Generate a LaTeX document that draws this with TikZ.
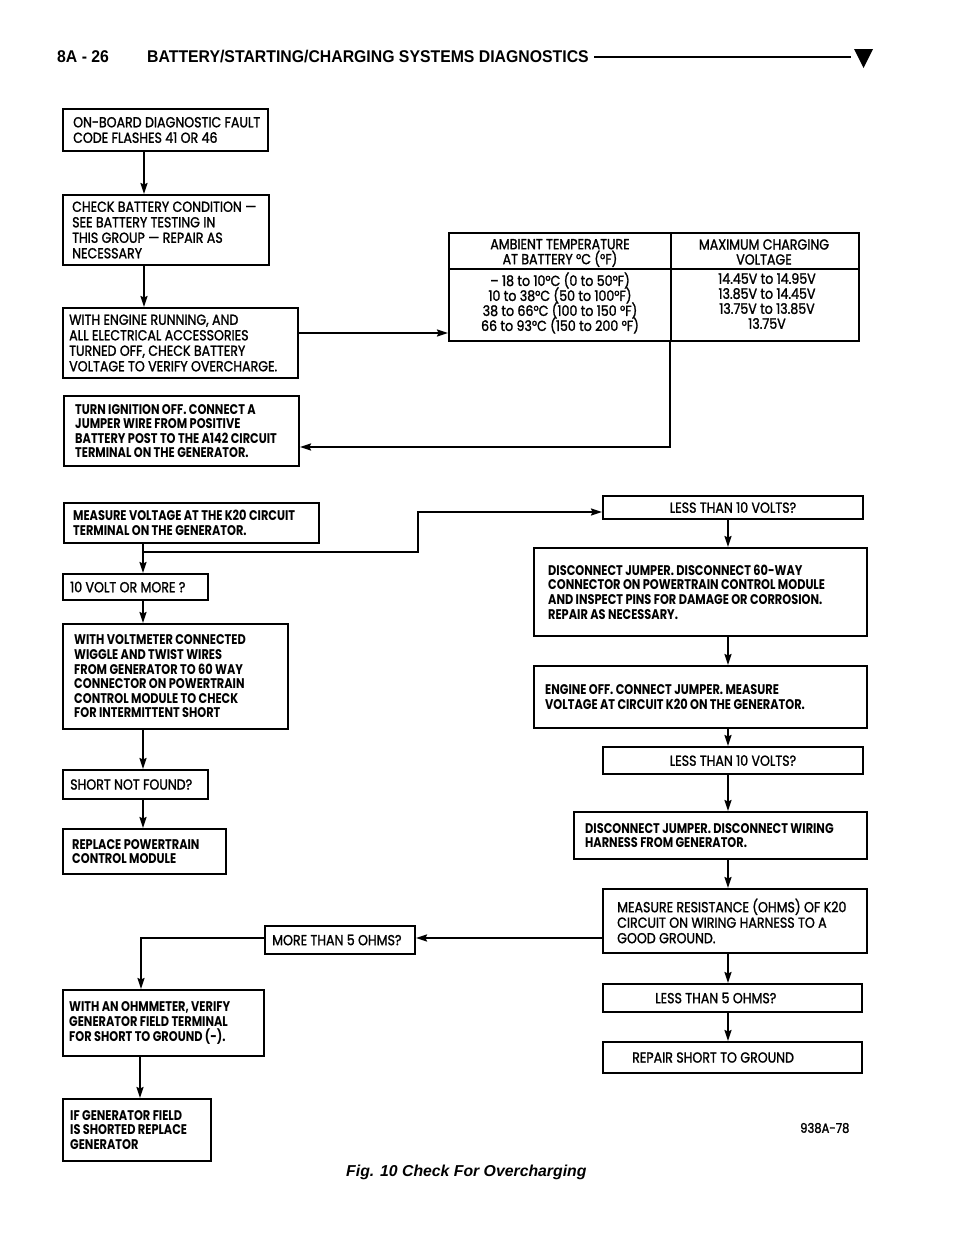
\documentclass[tikz,border=0pt]{standalone}
\usepackage{fontspec}
\usetikzlibrary{arrows.meta}
\newfontfamily\regf[FakeStretch=0.87, FakeBold=1.4]{Poppins}
\newfontfamily\bldf[FakeStretch=0.81]{Poppins}
\newfontfamily\hdf[FakeStretch=0.93]{Liberation Sans}
\newfontfamily\capf{Liberation Sans}
\newcommand{\tightlines}{\lineskiplimit=-30pt\relax}
\begin{document}
\begin{tikzpicture}[x=1pt,y=-1pt,
  frame/.style={draw, line width=2pt, inner sep=0pt, anchor=north west},
  txt/.style={inner sep=0pt, align=left, anchor=west, font=\regf\fontsize{14.5}{15.5}\selectfont\tightlines},
  btxt/.style={txt, font=\bldf\bfseries\fontsize{14}{14.6}\selectfont\tightlines},
  ctxt/.style={inner sep=0pt, align=center, font=\regf\fontsize{14.5}{15}\selectfont\tightlines},
  conn/.style={line width=1.8pt, -{Stealth[length=11pt,width=7pt,inset=1.5pt]}},
  wire/.style={line width=1.8pt}]
\useasboundingbox (0,0) rectangle (960,1242);
\fill[white] (0,0) rectangle (960,1242);

% header
\node[anchor=west, inner sep=0pt, font=\hdf\bfseries\fontsize{17}{19}\selectfont] (hd1) at (57,57) {8A - 26};
\node[anchor=west, inner sep=0pt, font=\hdf\bfseries\fontsize{17}{19}\selectfont] (hd2) at (147,57) {BATTERY/STARTING/CHARGING SYSTEMS DIAGNOSTICS};
\draw[line width=2.4pt] (594,57) -- (851,57);
\fill (854,49) -- (873,49) -- (863.5,68) -- cycle;

% boxes left
\node[frame, minimum width=205pt, minimum height=42pt] (b1) at (62,108) {};
\node[txt] (b1t) at ([xshift=11pt]b1.west) {ON-BOARD DIAGNOSTIC FAULT\\CODE FLASHES 41 OR 46};
\node[frame, minimum width=206pt, minimum height=70pt] (b2) at (62,194) {};
\node[txt] (b2t) at ([xshift=10pt]b2.west) {CHECK BATTERY CONDITION —\\SEE BATTERY TESTING IN\\THIS GROUP — REPAIR AS\\NECESSARY};
\node[frame, minimum width=235pt, minimum height=70pt] (b3) at (62,307) {};
\node[txt] (b3t) at ([xshift=7pt]b3.west) {WITH ENGINE RUNNING, AND\\ALL ELECTRICAL ACCESSORIES\\TURNED OFF, CHECK BATTERY\\VOLTAGE TO VERIFY OVERCHARGE.};
\node[frame, minimum width=235pt, minimum height=70pt] (b4) at (63,395) {};
\node[btxt] (b4t) at ([xshift=12pt]b4.west) {TURN IGNITION OFF. CONNECT A\\JUMPER WIRE FROM POSITIVE\\BATTERY POST TO THE A142 CIRCUIT\\TERMINAL ON THE GENERATOR.};
\node[frame, minimum width=255pt, minimum height=40pt] (b5) at (63,502) {};
\node[btxt] (b5t) at ([xshift=10pt]b5.west) {MEASURE VOLTAGE AT THE K20 CIRCUIT\\TERMINAL ON THE GENERATOR.};
\node[frame, minimum width=145pt, minimum height=26pt] (l1) at (62,573) {};
\node[txt] (l1t) at ([xshift=8pt]l1.west) {10 VOLT OR MORE ?};
\node[frame, minimum width=225pt, minimum height=105pt] (l2) at (62,623) {};
\node[btxt] (l2t) at ([xshift=12pt]l2.west) {WITH VOLTMETER CONNECTED\\WIGGLE AND TWIST WIRES\\FROM GENERATOR TO 60 WAY\\CONNECTOR ON POWERTRAIN\\CONTROL MODULE TO CHECK\\FOR INTERMITTENT SHORT};
\node[frame, minimum width=145pt, minimum height=29pt] (l3) at (62,769) {};
\node[txt] (l3t) at ([xshift=8pt]l3.west) {SHORT NOT FOUND?};
\node[frame, minimum width=163pt, minimum height=45pt] (l4) at (62,828) {};
\node[btxt] (l4t) at ([xshift=10pt]l4.west) {REPLACE POWERTRAIN\\CONTROL MODULE};
\node[frame, minimum width=201pt, minimum height=66pt] (l5) at (62,989) {};
\node[btxt] (l5t) at ([xshift=7pt]l5.west) {WITH AN OHMMETER, VERIFY\\GENERATOR FIELD TERMINAL\\FOR SHORT TO GROUND (-).};
\node[frame, minimum width=148pt, minimum height=62pt] (l6) at (62,1098) {};
\node[btxt] (l6t) at ([xshift=8pt]l6.west) {IF GENERATOR FIELD\\IS SHORTED REPLACE\\GENERATOR};
\node[frame, minimum width=150pt, minimum height=28pt] (m1) at (264,925) {};
\node[txt] (m1t) at ([xshift=8pt]m1.west) {MORE THAN 5 OHMS?};

% table
\node[frame, minimum width=410pt, minimum height=108pt] (tbl) at (448,232) {};
\draw[line width=2pt] (671,0 |- tbl.north) -- (671,0 |- tbl.south);
\draw[line width=2pt] (tbl.west |- 0,269) -- (tbl.east |- 0,269);
\node[ctxt] (th1) at (560,253) {AMBIENT TEMPERATURE\\AT BATTERY °C (°F)};
\node[ctxt] (th2) at (764,252) {MAXIMUM CHARGING\\VOLTAGE};
\node[ctxt] (td1) at (560,303) {– 18 to 10°C (0 to 50°F)\\10 to 38°C (50 to 100°F)\\38 to 66°C (100 to 150 °F)\\66 to 93°C (150 to 200 °F)};
\node[ctxt] (td2) at (767,301) {14.45V to 14.95V\\13.85V to 14.45V\\13.75V to 13.85V\\13.75V};

% boxes right
\node[frame, minimum width=260pt, minimum height=23pt] (r1) at (602,495) {};
\node[ctxt] (r1t) at (r1.center) {LESS THAN 10 VOLTS?};
\node[frame, minimum width=333pt, minimum height=88pt] (r2) at (533,547) {};
\node[btxt] (r2t) at ([xshift=15pt]r2.west) {DISCONNECT JUMPER. DISCONNECT 60-WAY\\CONNECTOR ON POWERTRAIN CONTROL MODULE\\AND INSPECT PINS FOR DAMAGE OR CORROSION.\\REPAIR AS NECESSARY.};
\node[frame, minimum width=333pt, minimum height=62pt] (r3) at (533,665) {};
\node[btxt] (r3t) at ([xshift=12pt]r3.west) {ENGINE OFF. CONNECT JUMPER. MEASURE\\VOLTAGE AT CIRCUIT K20 ON THE GENERATOR.};
\node[frame, minimum width=260pt, minimum height=27pt] (r4) at (602,746) {};
\node[ctxt] (r4t) at (r4.center) {LESS THAN 10 VOLTS?};
\node[frame, minimum width=293pt, minimum height=47pt] (r5) at (573,811) {};
\node[btxt] (r5t) at ([xshift=12pt]r5.west) {DISCONNECT JUMPER. DISCONNECT WIRING\\HARNESS FROM GENERATOR.};
\node[frame, minimum width=264pt, minimum height=64pt] (r6) at (602,888) {};
\node[txt] (r6t) at ([xshift=15pt]r6.west) {MEASURE RESISTANCE (OHMS) OF K20\\CIRCUIT ON WIRING HARNESS TO A\\GOOD GROUND.};
\node[frame, minimum width=259pt, minimum height=28pt] (r7) at (602,983) {};
\node[txt] (r7t) at ([xshift=53pt]r7.west) {LESS THAN 5 OHMS?};
\node[frame, minimum width=259pt, minimum height=31pt] (r8) at (602,1041) {};
\node[txt] (r8t) at ([xshift=30pt]r8.west) {REPAIR SHORT TO GROUND};

% connectors
\draw[conn] (144,0 |- b1.south) -- (144,0 |- b2.north);
\draw[conn] (144,0 |- b2.south) -- (144,0 |- b3.north);
\draw[conn] (b3.east |- 0,333) -- (tbl.west |- 0,333);
\draw[conn] (670,0 |- tbl.south) -- (670,447) -- (b4.east |- 0,447);
\draw[conn] (143,0 |- b5.south) -- (143,0 |- l1.north);
\draw[conn] (143,0 |- b5.south) -- (143,552) -- (418,552) -- (418,512) -- (r1.west |- 0,512);
\draw[conn] (143,0 |- l1.south) -- (143,0 |- l2.north);
\draw[conn] (143,0 |- l2.south) -- (143,0 |- l3.north);
\draw[conn] (143,0 |- l3.south) -- (143,0 |- l4.north);
\draw[conn] (728,0 |- r1.south) -- (728,0 |- r2.north);
\draw[conn] (728,0 |- r2.south) -- (728,0 |- r3.north);
\draw[conn] (728,0 |- r3.south) -- (728,0 |- r4.north);
\draw[conn] (728,0 |- r4.south) -- (728,0 |- r5.north);
\draw[conn] (728,0 |- r5.south) -- (728,0 |- r6.north);
\draw[conn] (728,0 |- r6.south) -- (728,0 |- r7.north);
\draw[conn] (728,0 |- r7.south) -- (728,0 |- r8.north);
\draw[conn] (r6.west |- 0,938) -- (m1.east |- 0,938);
\draw[conn] (m1.west |- 0,938) -- (141,938) -- (141,0 |- l5.north);
\draw[conn] (140,0 |- l5.south) -- (140,0 |- l6.north);

% footer
\node[anchor=west, inner sep=0pt, font=\regf\fontsize{13.3}{15}\selectfont] (code) at (800,1128) {938A-78};
\node[anchor=west, inner sep=0pt, font=\capf\bfseries\itshape\fontsize{15.8}{17}\selectfont] (cap) at (346,1172) {Fig. 10 Check For Overcharging};
\end{tikzpicture}
\end{document}
